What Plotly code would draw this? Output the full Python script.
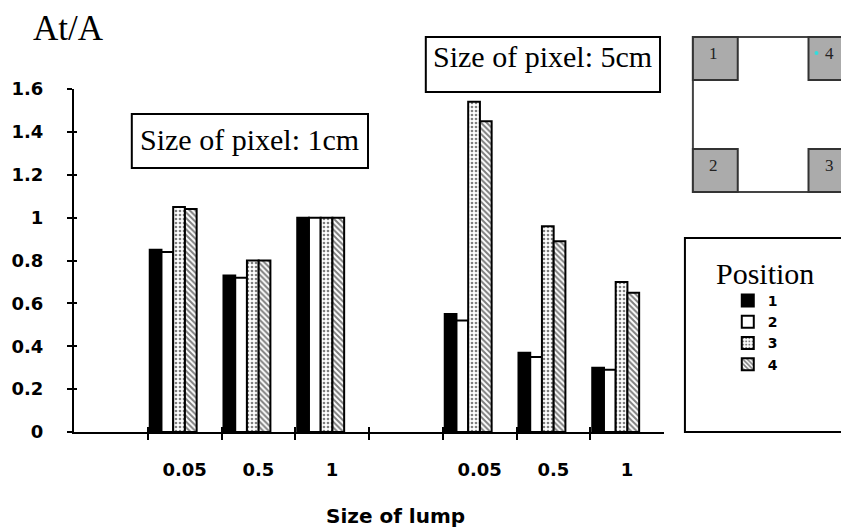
import plotly.graph_objects as go

# ---- data ----
slot_labels = ["", "0.05", "0.5", "1", "", "0.05", "0.5", "1"]
positions = ["1", "2", "3", "4"]
pos1 = [0.85, 0.73, 1.00, 0.55, 0.37, 0.30]
pos2 = [0.84, 0.72, 1.00, 0.52, 0.35, 0.29]
pos3 = [1.05, 0.80, 1.00, 1.54, 0.96, 0.70]
pos4 = [1.04, 0.80, 1.00, 1.45, 0.89, 0.65]
y_ticks = [0, 0.2, 0.4, 0.6, 0.8, 1.0, 1.2, 1.4, 1.6]
y_ticktext = ["0", "0.2", "0.4", "0.6", "0.8", "1", "1.2", "1.4", "1.6"]
box_texts = ["Size of pixel: 1cm", "Size of pixel: 5cm"]

W, H = 841, 529
ML, MR, MT, MB = 72, 177, 89, 97
PW, PH = W - ML - MR, H - MT - MB


def px(x):
    return (x - ML) / PW


def py(y):
    return (H - MB - y) / PH


slots = [i for i, s in enumerate(slot_labels) if s]
series = [pos1, pos2, pos3, pos4]
styles = [
    dict(color="black", pattern=dict(shape="")),
    dict(color="white", pattern=dict(shape="")),
    dict(color="white", pattern=dict(shape=".", fgcolor="black", bgcolor="white", size=4, solidity=0.35)),
    dict(color="white", pattern=dict(shape="\\", fgcolor="black", bgcolor="white", size=4, solidity=0.5)),
]
bw = 0.159
fig = go.Figure()
for k, (vals, st) in enumerate(zip(series, styles)):
    fig.add_trace(go.Bar(
        x=slots, y=vals, name=positions[k],
        offset=0.027 + k * bw, width=bw,
        marker=dict(color=st["color"], line=dict(color="black", width=2), pattern=st["pattern"]),
    ))

# dummy trace for the overlay axes (inside half of the crossing ticks)
fig.add_trace(go.Scatter(x=[None], y=[None], xaxis="x2", yaxis="y2", mode="markers",
                         showlegend=False, hoverinfo="skip"))

tickfont = dict(family="DejaVu Sans", size=18, color="black", weight="bold")
fig.update_layout(
    width=W, height=H,
    margin=dict(l=ML, r=MR, t=MT, b=MB),
    paper_bgcolor="white", plot_bgcolor="white",
    barmode="overlay",
    showlegend=True,
    legend=dict(x=px(728), y=py(285), xanchor="left", yanchor="top",
                bgcolor="rgba(0,0,0,0)", borderwidth=0,
                font=dict(family="DejaVu Sans", size=14, color="black", weight="bold"),
                traceorder="normal"),
    xaxis=dict(range=[0, 8], tickmode="array",
               tickvals=[s + 0.5 for s in range(len(slot_labels))], ticktext=slot_labels,
               ticks="", showgrid=False, zeroline=False,
               showline=True, linecolor="black", linewidth=2,
               tickfont=tickfont, ticklabelstandoff=20,
               minor=dict(tickmode="array", tickvals=list(range(1, 8)), ticks="outside",
                          ticklen=6, tickwidth=2, tickcolor="black", showgrid=False)),
    yaxis=dict(range=[0, 1.6], tickmode="array", tickvals=y_ticks, ticktext=y_ticktext,
               ticks="outside", ticklen=5, tickwidth=2, tickcolor="black",
               showgrid=False, zeroline=False, showline=True, linecolor="black", linewidth=2,
               tickfont=tickfont, ticklabelstandoff=20),
    xaxis2=dict(range=[0, 8], overlaying="x", anchor="y2", side="bottom", tickmode="array",
                tickvals=list(range(1, 8)), ticks="inside", ticklen=5, tickwidth=2,
                tickcolor="black", showticklabels=False, showgrid=False, zeroline=False,
                showline=False),
    yaxis2=dict(range=[0, 1.6], overlaying="y", side="left", tickmode="array",
                tickvals=y_ticks, ticks="inside", ticklen=3, tickwidth=2, tickcolor="black",
                showticklabels=False, showgrid=False, zeroline=False, showline=False),
)

shapes = []
annotations = []
# text boxes
boxes = [(130, 114, 367, 168), (425, 37, 660, 92)]
for (x0, y0, x1, y1), t, ty in zip(boxes, box_texts, [139, 57]):
    shapes.append(dict(type="rect", xref="paper", yref="paper", x0=px(x0), x1=px(x1),
                       y0=py(y1), y1=py(y0), line=dict(color="black", width=2),
                       fillcolor="white", layer="above"))
    annotations.append(dict(text=t, xref="paper", yref="paper", x=px((x0 + x1) / 2), y=py(ty),
                            xanchor="center", yanchor="middle", showarrow=False,
                            font=dict(family="Liberation Serif", size=30, color="black")))

# legend box
shapes.append(dict(type="rect", xref="paper", yref="paper", x0=px(685), x1=px(850),
                   y0=py(432), y1=py(238), line=dict(color="black", width=2),
                   fillcolor="rgba(0,0,0,0)", layer="below"))
annotations.append(dict(text="Position", xref="paper", yref="paper", x=px(765), y=py(273),
                        xanchor="center", yanchor="middle", showarrow=False,
                        font=dict(family="Liberation Serif", size=30, color="black")))

# inset diagram
shapes.append(dict(type="rect", xref="paper", yref="paper", x0=px(693), x1=px(860),
                   y0=py(192), y1=py(37), line=dict(color="#444444", width=2),
                   fillcolor="white", layer="above"))
corner_boxes = [(693, 37, 738, 80, "1"), (809, 37, 860, 80, "4"),
                (693, 149, 738, 192, "2"), (809, 149, 860, 192, "3")]
for x0, y0, x1, y1, lab in corner_boxes:
    shapes.append(dict(type="rect", xref="paper", yref="paper", x0=px(x0), x1=px(x1),
                       y0=py(y1), y1=py(y0), line=dict(color="#333333", width=2),
                       fillcolor="#ababab", layer="above"))
    annotations.append(dict(text=lab, xref="paper", yref="paper",
                            x=px(x0 + 21), y=py(y0 + 16),
                            xanchor="center", yanchor="middle", showarrow=False,
                            font=dict(family="Liberation Serif", size=17, color="#222222")))
shapes.append(dict(type="circle", xref="paper", yref="paper", x0=px(815), x1=px(819),
                   y0=py(55), y1=py(51), line=dict(width=0), fillcolor="#33dddd", layer="above"))

# axis titles
annotations.append(dict(text="At/A", xref="paper", yref="paper", x=px(29), y=py(28),
                        xanchor="left", yanchor="middle", showarrow=False,
                        font=dict(family="Liberation Serif", size=35, color="black")))
annotations.append(dict(text="Size of lump", xref="paper", yref="paper", x=px(395), y=py(516),
                        xanchor="center", yanchor="middle", showarrow=False,
                        font=dict(family="DejaVu Sans", size=20, color="black", weight="bold")))

fig.update_layout(shapes=shapes, annotations=annotations)
fig.write_html("out.html")
